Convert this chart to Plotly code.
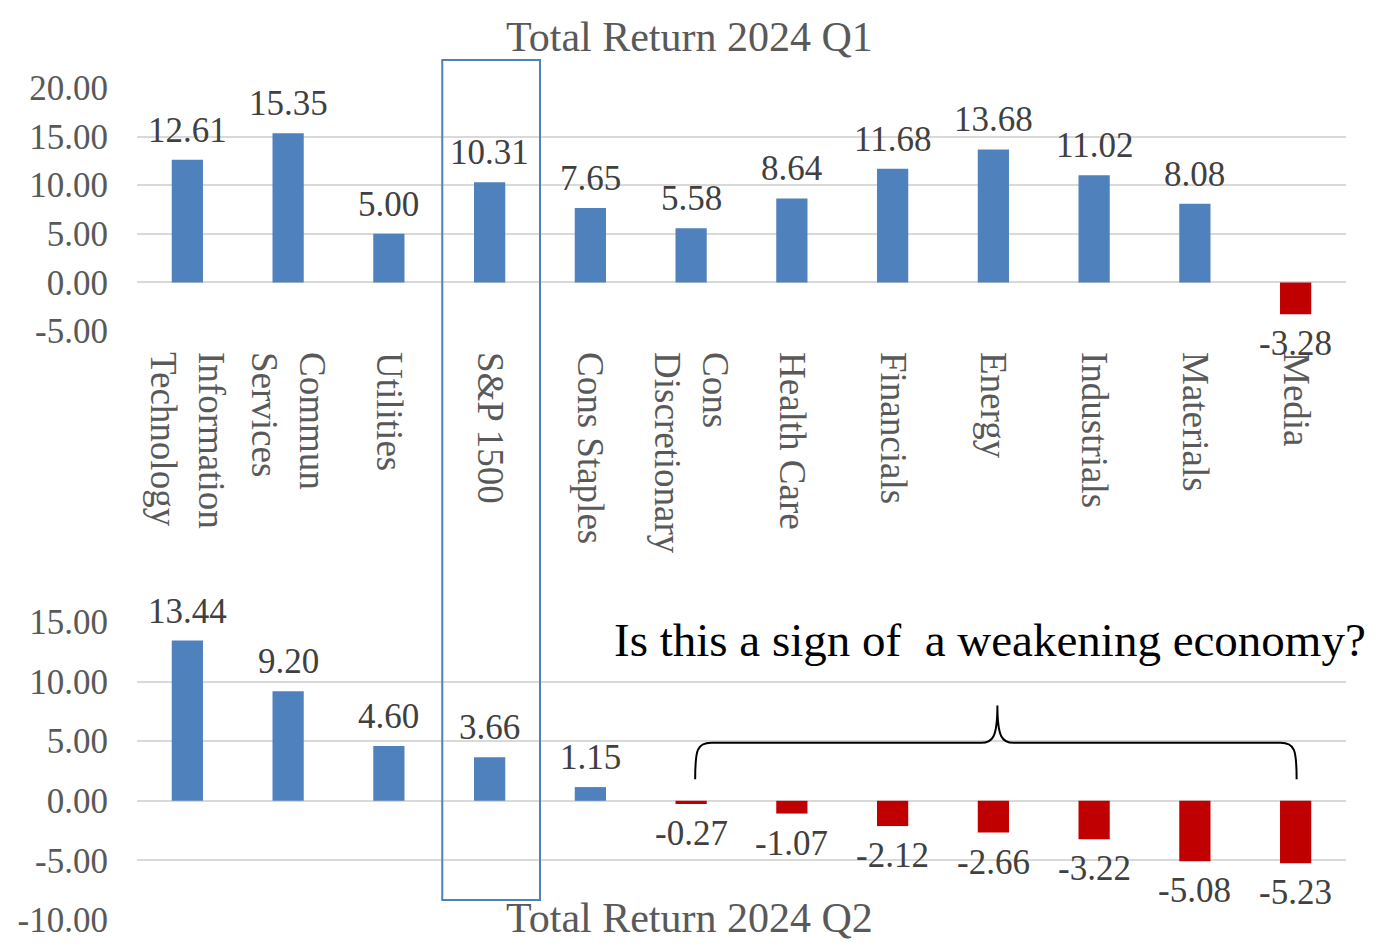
import plotly.graph_objs as go
from plotly.subplots import make_subplots

# sectors (same order in both quarters, labels only shown on top chart)
categories = [
    "Information<br>Technology", "Commun<br>Services", "Utilities", "S&P 1500",
    "Cons Staples", "Cons<br>Discretionary", "Health Care", "Financials",
    "Energy", "Industrials", "Materials", "Media",
]
q1_values = [12.61, 15.35, 5.00, 10.31, 7.65, 5.58, 8.64, 11.68, 13.68, 11.02, 8.08, -3.28]
q2_values = [13.44, 9.20, 4.60, 3.66, 1.15, -0.27, -1.07, -2.12, -2.66, -3.22, -5.08, -5.23]

q1_ticks = [-5, 0, 5, 10, 15, 20]
q2_ticks = [-10, -5, 0, 5, 10, 15]

q1_title = "Total Return 2024 Q1"
q2_title = "Total Return 2024 Q2"
note_text = "Is this a sign of  a weakening economy?"

BLUE = "#4F81BD"
RED = "#C00000"
GRID = "#D9D9D9"
GREY = "#595959"
FONT = "Liberation Serif"

# page body has an 8px margin, so the figure is drawn a bit smaller
OFF = 8
W, H = 1378 - OFF, 947 - OFF


def py(px):
    # screenshot pixel row -> paper y (margins t=b=0)
    return 1 - (px - OFF) / H


def px_x(px):
    # screenshot pixel column -> paper x (plot area 137..1346)
    return (px - 137) / 1209


def fmt(v):
    # excel style: plain hyphen for negatives
    return f"{v:.2f}"


fig = make_subplots(rows=2, cols=1)
xs = list(range(len(categories)))

for row, vals in [(1, q1_values), (2, q2_values)]:
    colors = [BLUE if v >= 0 else RED for v in vals]
    fig.add_trace(
        go.Bar(x=xs, y=vals, width=0.31, marker=dict(color=colors, line=dict(width=0)),
               showlegend=False, hoverinfo="y"),
        row=row, col=1,
    )
    # value labels
    xa = "x" if row == 1 else "x2"
    ya = "y" if row == 1 else "y2"
    for x, v in zip(xs, vals):
        fig.add_annotation(
            x=x, y=v, xref=xa, yref=ya, text=fmt(v), showarrow=False,
            yanchor="bottom" if v >= 0 else "top",
            yshift=8 if v >= 0 else -8,
            font=dict(family=FONT, size=35, color="#404040"),
        )

fig.update_xaxes(range=[-0.5, len(categories) - 0.5], showgrid=False, zeroline=False,
                 showline=False, ticks="", automargin=False)
fig.update_xaxes(tickvals=xs, ticktext=categories, tickangle=90, ticklabelstandoff=20,
                 tickfont=dict(family=FONT, size=37, color=GREY), row=1, col=1)
fig.update_xaxes(showticklabels=False, row=2, col=1)

fig.update_yaxes(showgrid=True, gridcolor=GRID, gridwidth=2,
                 zeroline=True, zerolinecolor=GRID, zerolinewidth=2, showline=False,
                 ticks="", ticklabelstandoff=28, automargin=False,
                 tickfont=dict(family=FONT, size=35, color=GREY))
fig.update_yaxes(range=[-5, 20], domain=[py(331), py(88)],
                 tickvals=q1_ticks, ticktext=[fmt(t) for t in q1_ticks], row=1, col=1)
fig.update_yaxes(range=[-10, 15], domain=[py(920), py(622)],
                 tickvals=q2_ticks, ticktext=[fmt(t) for t in q2_ticks], row=2, col=1)

# titles
for text, y in [(q1_title, 37), (q2_title, 918)]:
    fig.add_annotation(x=px_x(689), y=py(y), xref="paper", yref="paper",
                       xanchor="center", yanchor="middle",
                       text=text, showarrow=False,
                       font=dict(family=FONT, size=42, color=GREY))
fig.add_annotation(x=px_x(990), y=py(640), xref="paper", yref="paper",
                   xanchor="center", yanchor="middle",
                   text=note_text, showarrow=False,
                   font=dict(family=FONT, size=47, color="black"))

# curly brace over the negative Q2 bars
fig.add_shape(
    type="path", xref="x2", yref="y2",
    path=("M 5.04,1.8 C 5.04,4.3 5.06,4.86 5.2,4.86 L 7.88,4.86 "
          "C 7.99,4.86 8.04,5.3 8.04,8.0 C 8.04,5.3 8.09,4.86 8.2,4.86 "
          "L 10.85,4.86 C 10.99,4.86 11.01,4.3 11.01,1.8"),
    line=dict(color="black", width=2),
)

# S&P 1500 highlight box across both charts
fig.add_shape(type="rect", xref="x", yref="paper", x0=2.53, x1=3.5,
              y0=py(900), y1=py(60), line=dict(color=BLUE, width=2),
              fillcolor="rgba(0,0,0,0)")

fig.update_layout(
    width=W, height=H,
    margin=dict(l=137 - OFF, r=1378 - 1346, t=0, b=0),
    plot_bgcolor="white", paper_bgcolor="white",
    bargap=0.69,
    font=dict(family=FONT),
)

fig.write_html("out.html")
